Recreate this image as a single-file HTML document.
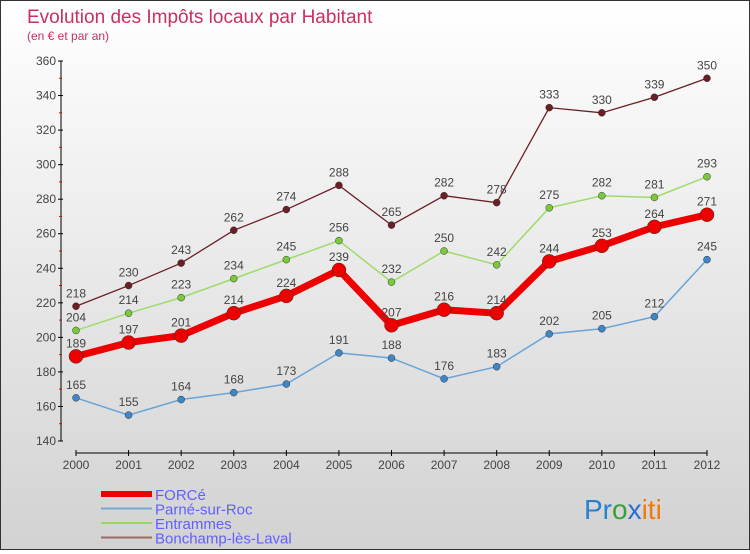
<!DOCTYPE html>
<html><head><meta charset="utf-8">
<style>
html,body{margin:0;padding:0}
body{width:750px;height:550px;overflow:hidden;font-family:"Liberation Sans",sans-serif}
#wrap{position:relative;width:748px;height:548px;border:1px solid #333;background:linear-gradient(#ffffff,#d2d2d2)}
</style></head><body>
<div id="wrap">
<svg id="chart" width="748" height="548" font-family="Liberation Sans, sans-serif">
<text x="26" y="22" font-size="19" fill="#c8305e">Evolution des Impôts locaux par Habitant</text>
<text x="26" y="39" font-size="12" fill="#c8305e">(en € et par an)</text>
<g id="axes"></g><g id="series"></g><g id="legend"></g>
<text x="583" y="518" font-size="28"><tspan fill="#2a7fd0">Pr</tspan><tspan fill="#3aa03a">o</tspan><tspan fill="#2a6fd0">x</tspan><tspan fill="#f07a10">iti</tspan></text>
</svg>
</div>
<script>
const years=[2000,2001,2002,2003,2004,2005,2006,2007,2008,2009,2010,2011,2012];
const yTicks=[140,160,180,200,220,240,260,280,300,320,340,360];
const force=[189,197,201,214,224,239,207,216,214,244,253,264,271];
const parne=[165,155,164,168,173,191,188,176,183,202,205,212,245];
const entrammes=[204,214,223,234,245,256,232,250,242,275,282,281,293];
const bonchamp=[218,230,243,262,274,288,265,282,278,333,330,339,350];
const seriesNames=["FORCé","Parné-sur-Roc","Entrammes","Bonchamp-lès-Laval"];
const NS="http://www.w3.org/2000/svg";
const xS=i=>75+i*(706-75)/(years.length-1);
const yS=v=>440-(v-140)*(380/220);
function mk(tag,attrs,parent){const e=document.createElementNS(NS,tag);for(const k in attrs)e.setAttribute(k,attrs[k]);parent.appendChild(e);return e;}
const ax=document.getElementById('axes');
let l=mk('line',{x1:60,y1:60,x2:60,y2:440,stroke:'#000'},ax);


yTicks.forEach(t=>{const y=yS(t);
 mk('line',{x1:57,y1:y,x2:62,y2:y,stroke:'#000'},ax);
 const tx=mk('text',{x:55,y:y+4,'font-size':12,fill:'#444','text-anchor':'end'},ax);tx.textContent=t;
 
 
 if(t<360)mk('line',{x1:58,y1:y-17.3,x2:61,y2:y-17.3,stroke:'#e00'},ax);
});
l=mk('line',{x1:75,y1:452,x2:706,y2:452,stroke:'#000'},ax);


years.forEach((yr,i)=>{const x=xS(i);
 mk('line',{x1:x,y1:449,x2:x,y2:455,stroke:'#000'},ax);
 const tx=mk('text',{x:x,y:468,'font-size':12,fill:'#444','text-anchor':'middle'},ax);tx.textContent=yr;
 
 
});
const sg=document.getElementById('series');
const defs=[
 {d:bonchamp,c:'#6b1e24',w:1.3,r:3.5,name:'series-bonchamp'},
 {d:entrammes,c:'#9ddc6a',w:1.5,r:3.5,fill:'#7cc83c',name:'series-entrammes'},
 {d:parne,c:'#6aa3d8',w:1.5,r:3.5,fill:'#3f86c8',name:'series-parne'},
 {d:force,c:'#ee0000',w:7,r:7,name:'series-force'}
];
defs.forEach(s=>{
 const g=mk('g',{},sg);
 
 
 mk('polyline',{points:s.d.map((v,i)=>xS(i)+','+yS(v)).join(' '),fill:'none',stroke:s.c,'stroke-width':s.w},g);
 s.d.forEach((v,i)=>{
  const c=mk('circle',{cx:xS(i),cy:yS(v),r:s.r,fill:s.fill||s.c,stroke:'#333','stroke-width':0.5},g);
  
  
  const t=mk('text',{x:xS(i),y:yS(v)-9,'font-size':12,fill:'#444','text-anchor':'middle'},g);t.textContent=v;
  
  
 });
});
const lg=document.getElementById('legend');
const lc=[['#ee0000',6],['#7aa9d0',2],['#98d86a',2],['#9a6a6a',2]];
seriesNames.forEach((n,i)=>{const y=493+i*14.5;
 const g=mk('g',{},lg);
 
 
 mk('line',{x1:100,y1:y,x2:151,y2:y,stroke:lc[i][0],'stroke-width':lc[i][1]},g);
 const t=mk('text',{x:154,y:y+6,'font-size':15,fill:'#6060ff'},g);t.textContent=n;
});
</script>
</body></html>
